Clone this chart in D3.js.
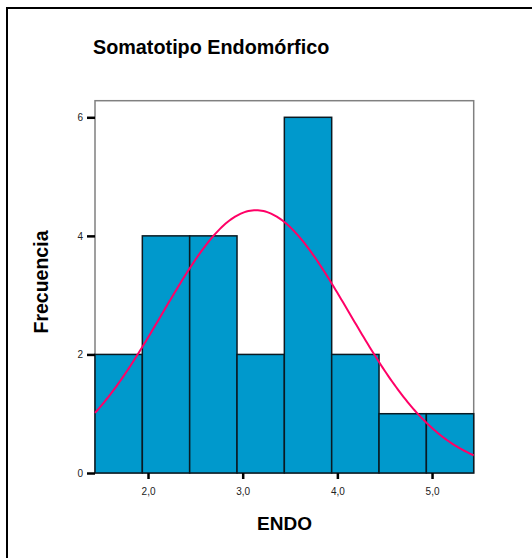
<!DOCTYPE html>
<html>
<head>
<meta charset="utf-8">
<script src="https://cdn.jsdelivr.net/npm/d3@7"></script>
<style>
  body { margin: 0; background: #fff; }
  text { font-family: "Liberation Sans", Arial, sans-serif; }
</style>
</head>
<body>
<div id="chart"></div>
<script>
// histogram bins (ENDO)
var binEdges = [1.44, 1.94, 2.44, 2.94, 3.44, 3.94, 4.44, 4.94, 5.44];
var counts = [2, 4, 4, 2, 6, 2, 1, 1];
var xTicks = [2, 3, 4, 5];
var yTicks = [0, 2, 4, 6];
// fitted normal curve
var mean = 3.14, sd = 0.99, N = 22, binWidth = 0.5;

var W = 532, H = 558;
var svg = d3.select('#chart').append('svg').attr('width', W).attr('height', H);

// outer frame (goes off the bottom/right)
svg.append('rect').attr('x', 7).attr('y', 8).attr('width', 540).attr('height', 570)
    .attr('fill', 'none').attr('stroke', '#000').attr('stroke-width', 2);

var x = d3.scaleLinear().domain([1.44, 5.44]).range([95, 473.7]);
var y = d3.scaleLinear().domain([0, 6.28]).range([473, 100.7]);

// plot frame
svg.append('rect').attr('x', x(1.44)).attr('y', y(6.28))
    .attr('width', x(5.44) - x(1.44)).attr('height', y(0) - y(6.28))
    .attr('fill', 'none').attr('stroke', '#808080').attr('stroke-width', 1.5);

var bins = counts.map(function (c, i) { return { x0: binEdges[i], x1: binEdges[i + 1], n: c }; });
svg.append('g').selectAll('rect').data(bins).enter().append('rect')
    .attr('x', function (d) { return x(d.x0); })
    .attr('y', function (d) { return y(d.n); })
    .attr('width', function (d) { return x(d.x1) - x(d.x0); })
    .attr('height', function (d) { return y(0) - y(d.n); })
    .attr('fill', '#0099CC')
    .attr('stroke', '#0a1a22')
    .attr('stroke-width', 1.5);

// normal curve
var pts = d3.range(0, 201).map(function (i) { return 1.44 + i * 4 / 200; });
var dens = function (v) {
    return N * binWidth / (sd * Math.sqrt(2 * Math.PI)) * Math.exp(-0.5 * Math.pow((v - mean) / sd, 2));
};
svg.append('path').datum(pts)
    .attr('d', d3.line().x(function (d) { return x(d); }).y(function (d) { return y(dens(d)); }))
    .attr('fill', 'none').attr('stroke', '#FF0066').attr('stroke-width', 2);

// axes
var xAxis = d3.axisBottom(x).tickValues(xTicks).tickSize(6).tickPadding(9)
    .tickFormat(function (d) { return d3.format('.1f')(d).replace('.', ','); });
var gx = svg.append('g').attr('transform', 'translate(0,' + y(0) + ')').call(xAxis);
gx.select('.domain').remove();
gx.selectAll('.tick line').attr('stroke', '#000').attr('stroke-width', 2.5);
gx.selectAll('.tick text').attr('font-size', 10).attr('fill', '#222')
    .style('font-family', '"Liberation Sans", Arial, sans-serif');

var yAxis = d3.axisLeft(y).tickValues(yTicks).tickSize(8).tickPadding(4).tickFormat(d3.format('d'));
var gy = svg.append('g').attr('transform', 'translate(' + x(1.44) + ',0)').call(yAxis);
gy.select('.domain').remove();
gy.selectAll('.tick line').attr('stroke', '#000').attr('stroke-width', 2.5);
gy.selectAll('.tick text').attr('font-size', 10).attr('fill', '#222')
    .style('font-family', '"Liberation Sans", Arial, sans-serif');

// titles
svg.append('text').attr('x', 93).attr('y', 54).attr('font-size', 19.8).attr('font-weight', 'bold')
    .text('Somatotipo Endomórfico');
svg.append('text').attr('x', 284.5).attr('y', 530).attr('text-anchor', 'middle')
    .attr('font-size', 19).attr('font-weight', 'bold').text('ENDO');
svg.append('text').attr('transform', 'translate(48,282) rotate(-90)').attr('text-anchor', 'middle')
    .attr('font-size', 19.5).attr('font-weight', 'bold').text('Frecuencia');
</script>
</body>
</html>
